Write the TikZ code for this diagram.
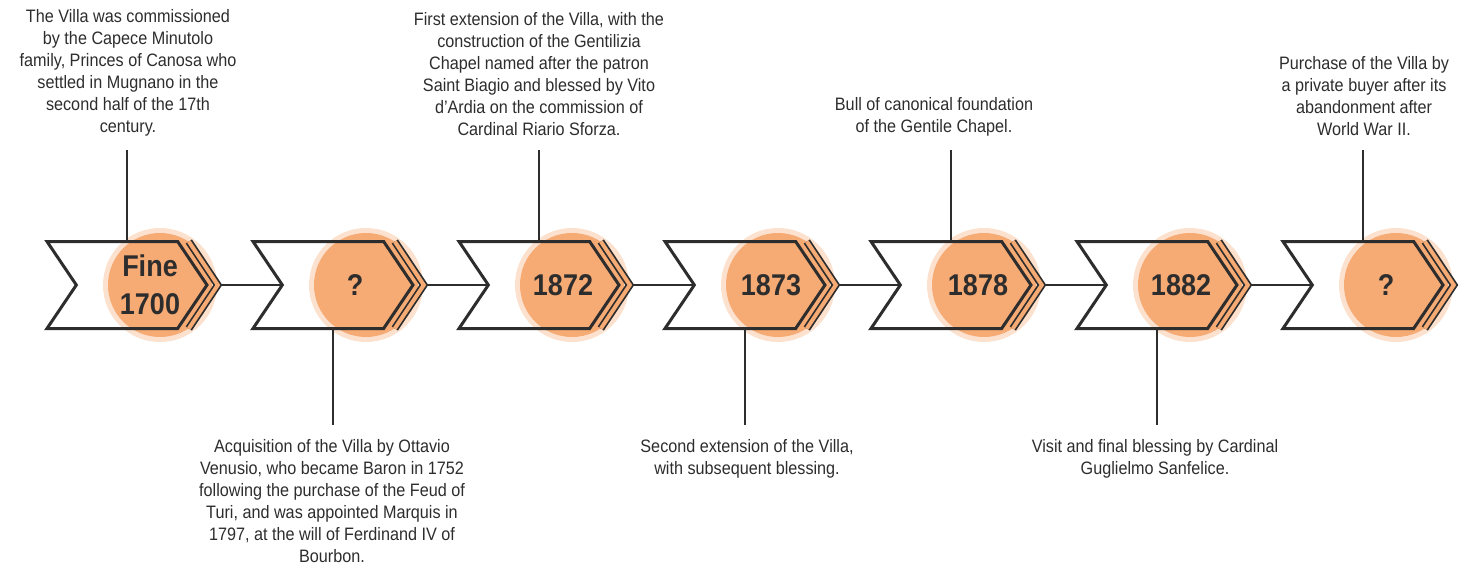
\documentclass[tikz,border=0pt]{standalone}
\usepackage{fontspec}
\setmainfont{Liberation Sans}[FakeStretch=0.9]
\usetikzlibrary{shapes.symbols,calc}

\definecolor{peach}{RGB}{246,170,116}
\definecolor{ink}{RGB}{45,45,45}

\begin{document}
\begin{tikzpicture}[x=0.5pt,y=-0.5pt,
    chevron/.style ={signal, signal to=east, signal from=west, signal pointer angle=112,
                     draw=ink, line width=1.5pt, minimum width=80pt, minimum height=43.5pt, inner sep=0pt},
    disc/.style ={circle, fill=peach, minimum size=52pt, inner sep=0pt,
                  preaction={draw=peach, line width=5pt, draw opacity=0.35}},
    tipline/.style ={draw=ink, line width=0.85pt, double=peach, double distance=2pt},
    link/.style ={draw=ink, line width=0.8pt},
    year/.style ={font=\fontsize{15}{19}\selectfont\bfseries, text=ink, align=center},
    event/.style ={font=\fontsize{9}{11}\selectfont, text=ink, align=center, inner sep=1pt, outer sep=6pt}]
   \useasboundingbox (0,0) rectangle (1459,572);

   % orange discs behind the arrows
   \node[disc] (d1) at (160,285) {};
   \node[disc] (d2) at (366,285) {};
   \node[disc] (d3) at (572,285) {};
   \node[disc] (d4) at (778,285) {};
   \node[disc] (d5) at (984,285) {};
   \node[disc] (d6) at (1190,285) {};
   \node[disc] (d7) at (1396,285) {};

   % arrows
   \node[chevron] (c1) at (127,285) {};
   \node[chevron] (c2) at (333,285) {};
   \node[chevron] (c3) at (539,285) {};
   \node[chevron] (c4) at (745,285) {};
   \node[chevron] (c5) at (951,285) {};
   \node[chevron] (c6) at (1157,285) {};
   \node[chevron] (c7) at (1363,285) {};

   \draw[tipline] ($(c1.east)+(-20,-43.5)$) -- ($(c1.east)+(9,0)$) -- ($(c1.east)+(-20,43.5)$);
   \draw[tipline] ($(c2.east)+(-20,-43.5)$) -- ($(c2.east)+(9,0)$) -- ($(c2.east)+(-20,43.5)$);
   \draw[tipline] ($(c3.east)+(-20,-43.5)$) -- ($(c3.east)+(9,0)$) -- ($(c3.east)+(-20,43.5)$);
   \draw[tipline] ($(c4.east)+(-20,-43.5)$) -- ($(c4.east)+(9,0)$) -- ($(c4.east)+(-20,43.5)$);
   \draw[tipline] ($(c5.east)+(-20,-43.5)$) -- ($(c5.east)+(9,0)$) -- ($(c5.east)+(-20,43.5)$);
   \draw[tipline] ($(c6.east)+(-20,-43.5)$) -- ($(c6.east)+(9,0)$) -- ($(c6.east)+(-20,43.5)$);
   \draw[tipline] ($(c7.east)+(-20,-43.5)$) -- ($(c7.east)+(9,0)$) -- ($(c7.east)+(-20,43.5)$);

   \coordinate (p1) at ($(c1.east)+(13,0)$);
   \coordinate (p2) at ($(c2.east)+(13,0)$);
   \coordinate (p3) at ($(c3.east)+(13,0)$);
   \coordinate (p4) at ($(c4.east)+(13,0)$);
   \coordinate (p5) at ($(c5.east)+(13,0)$);
   \coordinate (p6) at ($(c6.east)+(13,0)$);

   \draw[link] (p1) -- (c2.west);
   \draw[link] (p2) -- (c3.west);
   \draw[link] (p3) -- (c4.west);
   \draw[link] (p4) -- (c5.west);
   \draw[link] (p5) -- (c6.west);
   \draw[link] (p6) -- (c7.west);

   % dates
   \node[year] (y1) at (150,285) {Fine\\1700};
   \node[year] (y2) at (355,285) {?};
   \node[year] (y3) at (563,285) {1872};
   \node[year] (y4) at (771,285) {1873};
   \node[year] (y5) at (978,285) {1878};
   \node[year] (y6) at (1181,285) {1882};
   \node[year] (y7) at (1386,285) {?};

   % events above
   \node[event,anchor=south] (t1) at (128,150) {The Villa was commissioned\\by the Capece Minutolo\\family, Princes of Canosa who\\settled in Mugnano in the\\second half of the 17th\\century.};
   \node[event,anchor=south] (t3) at (539,150) {First extension of the Villa, with the\\construction of the Gentilizia\\Chapel named after the patron\\Saint Biagio and blessed by Vito\\d'Ardia on the commission of\\Cardinal Riario Sforza.};
   \node[event,anchor=south] (t5) at (934,150) {Bull of canonical foundation\\of the Gentile Chapel.};
   \node[event,anchor=south] (t7) at (1364,150) {Purchase of the Villa by\\a private buyer after its\\abandonment after\\World War II.};

   % events below
   \node[event,anchor=north] (t2) at (332,425) {Acquisition of the Villa by Ottavio\\Venusio, who became Baron in 1752\\following the purchase of the Feud of\\Turi, and was appointed Marquis in\\1797, at the will of Ferdinand IV of\\Bourbon.};
   \node[event,anchor=north] (t4) at (747,425) {Second extension of the Villa,\\with subsequent blessing.};
   \node[event,anchor=north] (t6) at (1155,425) {Visit and final blessing by Cardinal\\Guglielmo Sanfelice.};

   \draw[link] (c1.north) -- (c1.north |- t1.south);
   \draw[link] (c3.north) -- (c3.north |- t3.south);
   \draw[link] (c5.north) -- (c5.north |- t5.south);
   \draw[link] (c7.north) -- (c7.north |- t7.south);
   \draw[link] (c2.south) -- (c2.south |- t2.north);
   \draw[link] (c4.south) -- (c4.south |- t4.north);
   \draw[link] (c6.south) -- (c6.south |- t6.north);
 \end{tikzpicture}
\end{document}
